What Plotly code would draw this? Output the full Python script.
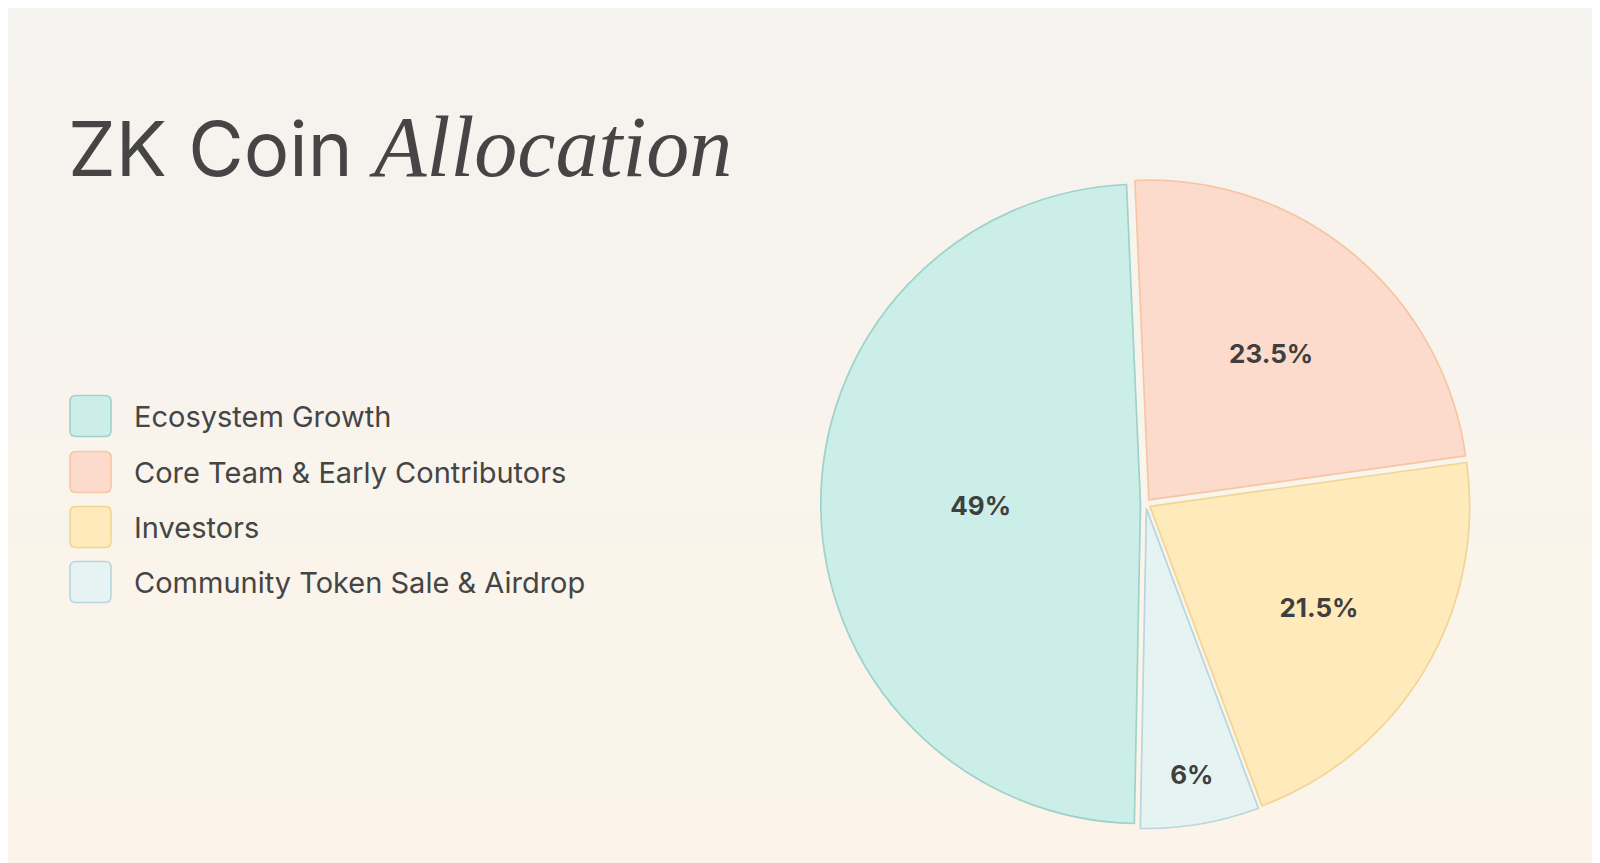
import plotly.graph_objects as go

W, H = 1600, 863

# data (legend order)
categories = ["Ecosystem Growth", "Core Team & Early Contributors",
              "Investors", "Community Token Sale & Airdrop"]
shares = [49, 23.5, 21.5, 6]
fill_colors = ["#cbeee8", "#fddbcc", "#feeabb", "#e5f4f3"]
line_colors = ["#9fd2c9", "#f6c6a3", "#f1d593", "#b7d6df"]

# slices are drawn clockwise from the top in this order
pie_order = [1, 2, 3, 0]

TEXT = "#454545"
SANS = "Inter, Liberation Sans, sans-serif"


def px(x, y):
    return x / W, 1 - y / H


def rounded_rect(x0, y0, x1, y1, r):
    # path in paper coords from a pixel box
    pts = []
    a = px(x0 + r, y0); pts.append(f"M{a[0]},{a[1]}")
    a = px(x1 - r, y0); pts.append(f"L{a[0]},{a[1]}")
    c = px(x1, y0); a = px(x1, y0 + r); pts.append(f"Q{c[0]},{c[1]} {a[0]},{a[1]}")
    a = px(x1, y1 - r); pts.append(f"L{a[0]},{a[1]}")
    c = px(x1, y1); a = px(x1 - r, y1); pts.append(f"Q{c[0]},{c[1]} {a[0]},{a[1]}")
    a = px(x0 + r, y1); pts.append(f"L{a[0]},{a[1]}")
    c = px(x0, y1); a = px(x0, y1 - r); pts.append(f"Q{c[0]},{c[1]} {a[0]},{a[1]}")
    a = px(x0, y0 + r); pts.append(f"L{a[0]},{a[1]}")
    c = px(x0, y0); a = px(x0 + r, y0); pts.append(f"Q{c[0]},{c[1]} {a[0]},{a[1]}")
    return " ".join(pts) + " Z"


fig = go.Figure(go.Pie(
    labels=[categories[i] for i in pie_order],
    values=[shares[i] for i in pie_order],
    sort=False,
    direction="clockwise",
    rotation=-2.5,
    pull=0.016,
    marker=dict(colors=[fill_colors[i] for i in pie_order],
                line=dict(color=[line_colors[i] for i in pie_order], width=1.7)),
    texttemplate="%{value}%",
    textposition="inside",
    insidetextorientation="horizontal",
    textfont=dict(family=SANS, size=26, color="#3f3f3f", weight="bold"),
    hoverinfo="skip",
    showlegend=False,
    domain=dict(x=[0.508, 0.914], y=[0.049, 0.802]),
))

# soft vertical background gradient
top = (245, 243, 239)
bottom = (252, 244, 233)
shapes = []
n = 24
for k in range(n):
    t = k / (n - 1)
    col = tuple(round(top[j] + (bottom[j] - top[j]) * t) for j in range(3))
    shapes.append(dict(type="rect", xref="paper", yref="paper",
                       x0=0, x1=1, y0=1 - (k + 1) / n, y1=1 - k / n,
                       fillcolor=f"rgb{col}", line=dict(width=0), layer="below"))

# custom legend
annotations = []
legend_y = [408, 464, 519, 574]
for i, name in enumerate(categories):
    yc = legend_y[i]
    shapes.append(dict(type="path", xref="paper", yref="paper",
                       path=rounded_rect(62, yc - 20.5, 103, yc + 20.5, 6),
                       fillcolor=fill_colors[i],
                       line=dict(color=line_colors[i], width=1.6)))
    annotations.append(dict(xref="paper", yref="paper",
                            x=124 / W, y=1 - yc / H, xanchor="left", yanchor="middle",
                            text=name, showarrow=False,
                            font=dict(family=SANS, size=29, color=TEXT)))

annotations.append(dict(
    xref="paper", yref="paper", x=58 / W, y=1 - 139 / H,
    xanchor="left", yanchor="middle", showarrow=False,
    text=("ZK Coin <span style='font-family:Liberation Serif, DejaVu Serif, serif;"
          "font-size:86px'><i>Allocation</i></span>"),
    font=dict(family=SANS, size=76, color=TEXT),
))

fig.update_layout(
    width=W, height=H,
    margin=dict(l=0, r=0, t=0, b=0),
    paper_bgcolor="#f8f5ef",
    plot_bgcolor="rgba(0,0,0,0)",
    shapes=shapes,
    annotations=annotations,
)

fig.write_html("out.html")
